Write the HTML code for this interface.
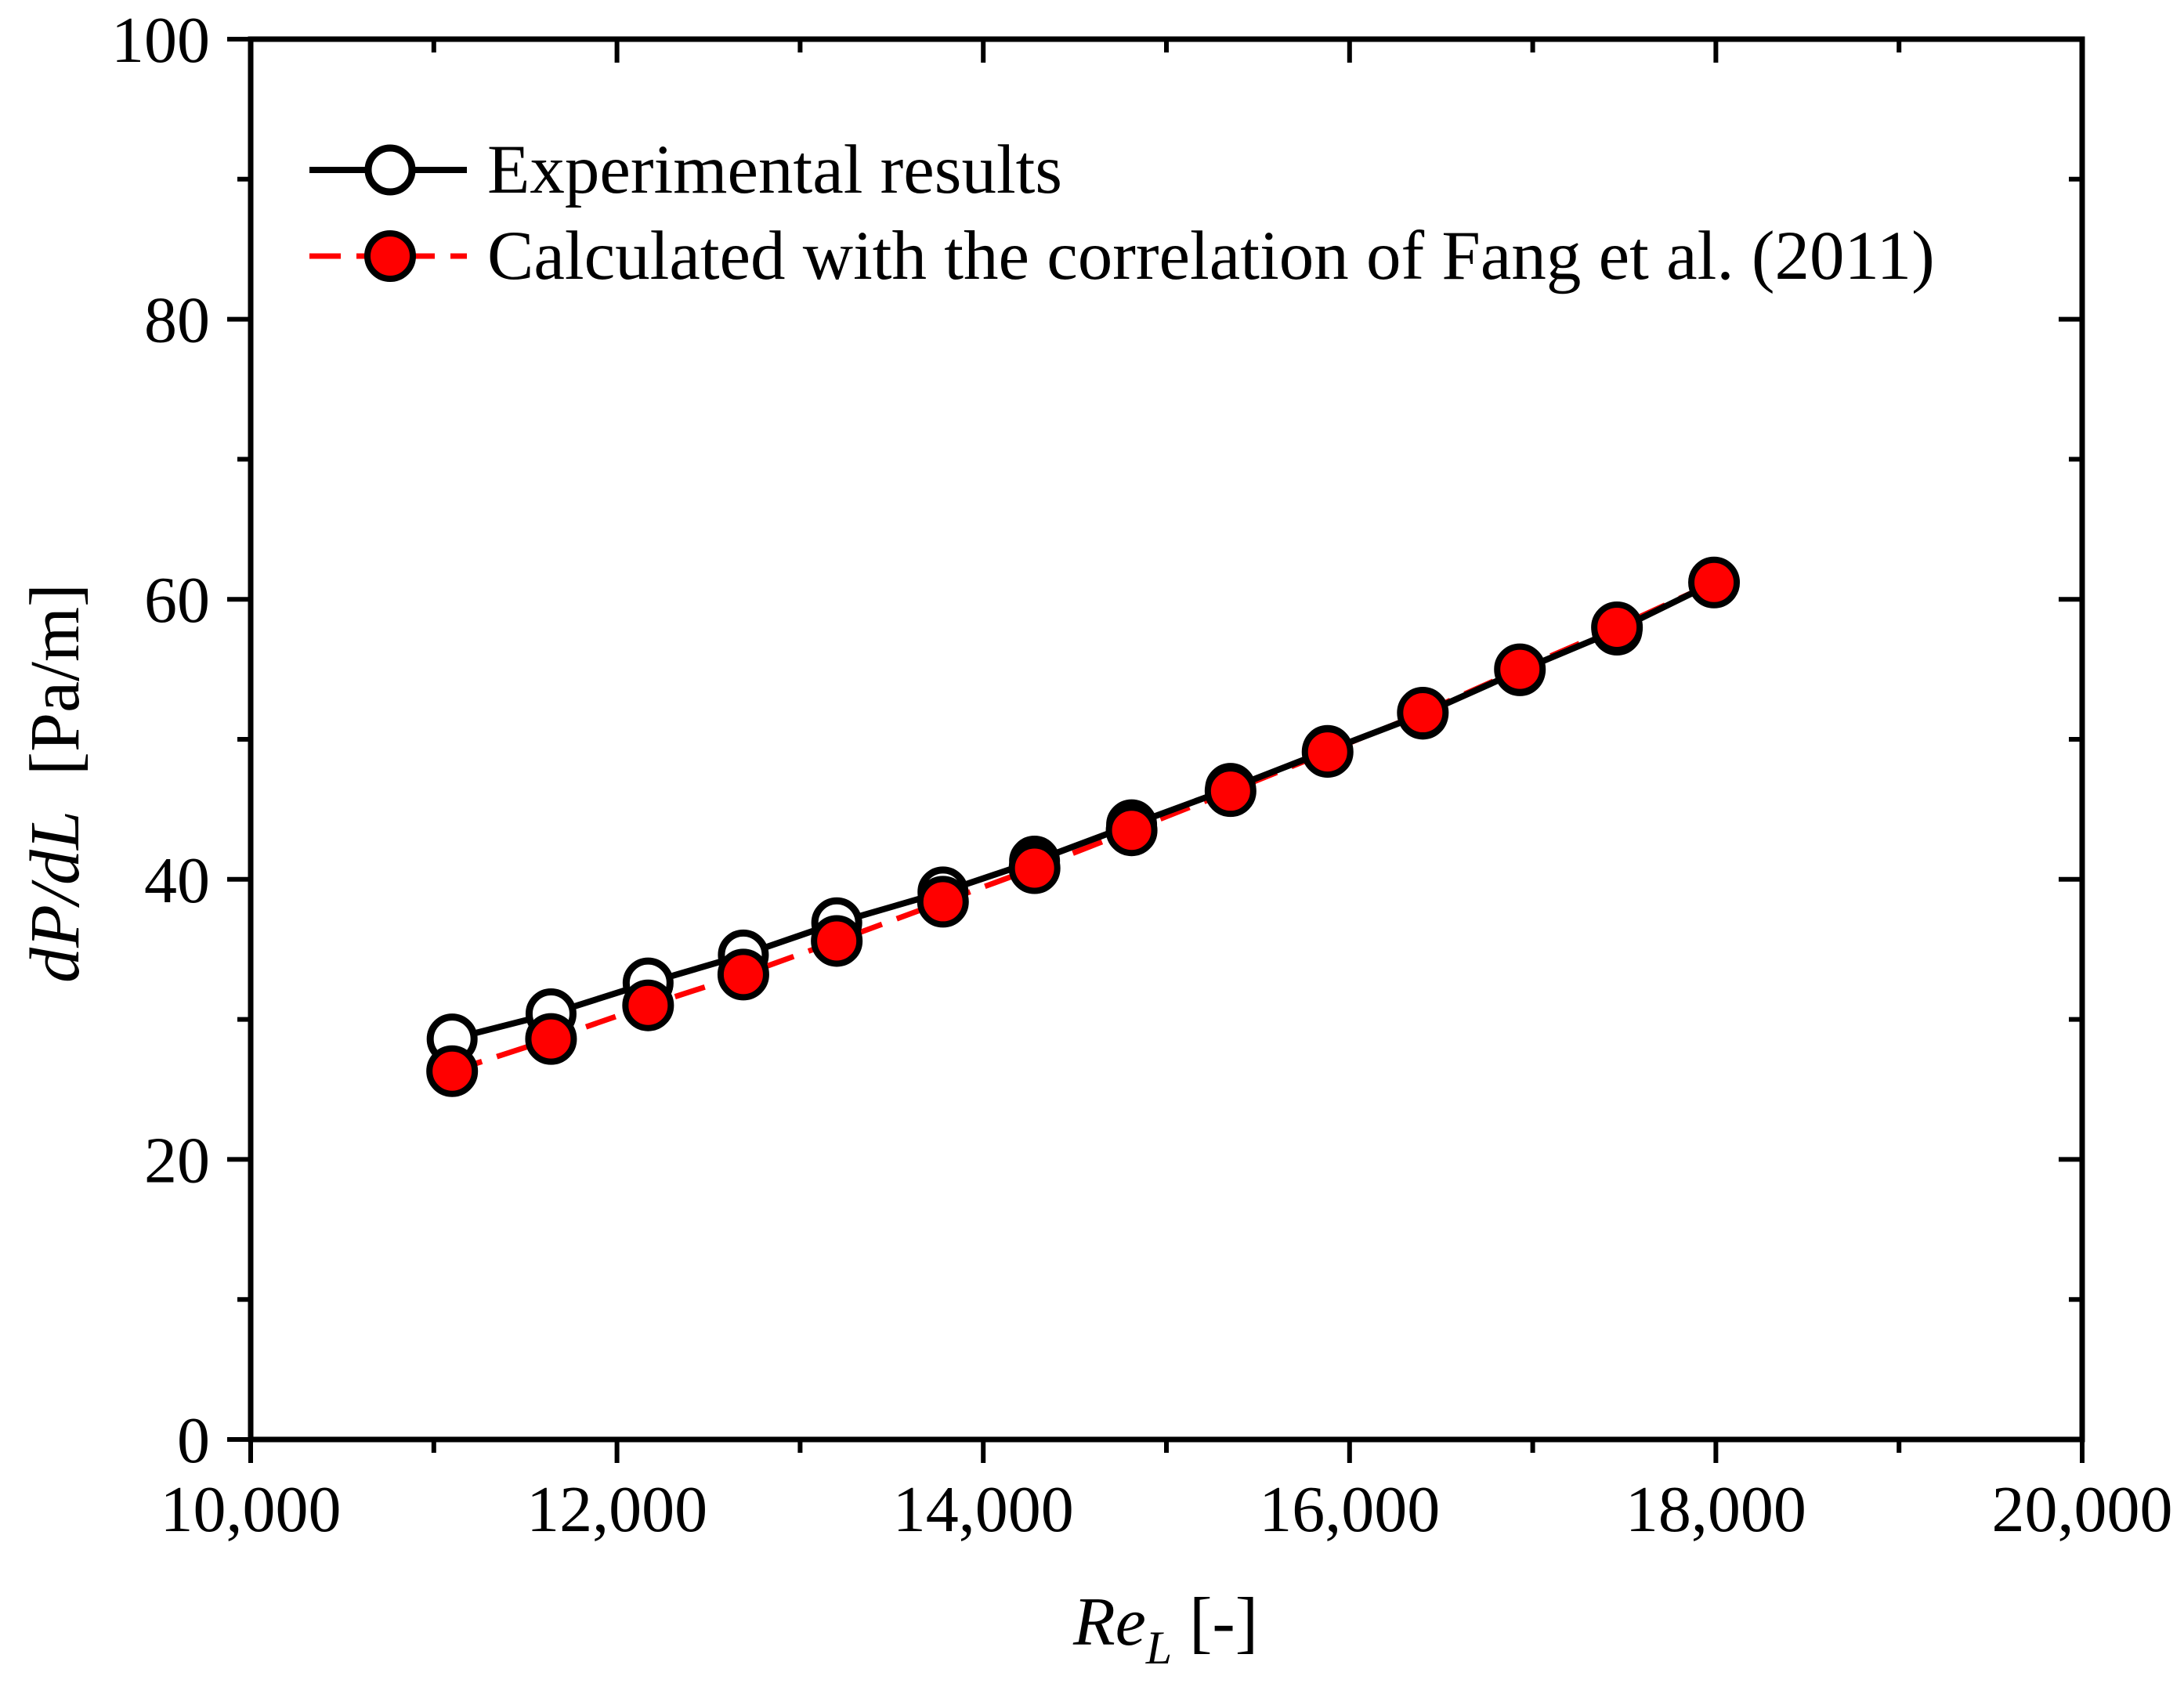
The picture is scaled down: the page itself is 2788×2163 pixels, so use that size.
<!DOCTYPE html>
<html><head><meta charset="utf-8"><style>
html,body{margin:0;padding:0;background:#fff;}
svg{display:block;font-family:"Liberation Serif",serif;}
</style></head><body>
<svg id="chart" width="2788" height="2163" viewBox="0 0 2788 2163" xmlns="http://www.w3.org/2000/svg"></svg>
<script>
const reValues=[11100,11640,12170,12690,13200,13780,14280,14810,15350,15880,16400,16930,17460,17990];
const expValues=[28.6,30.4,32.6,34.6,36.9,39.1,41.3,43.9,46.5,49.2,51.8,54.9,57.8,61.2];
const calcValues=[26.3,28.6,31.0,33.2,35.6,38.4,40.8,43.5,46.3,49.1,51.9,55.0,58.0,61.2];
const xTicks=[10000,12000,14000,16000,18000,20000];
const xTickLabels=["10,000","12,000","14,000","16,000","18,000","20,000"];
const yTicks=[0,20,40,60,80,100];
const yTickLabels=["0","20","40","60","80","100"];

const L=320,R=2658,T=50,B=1838;
const sx=v=>L+(v-10000)/10000*(R-L);
const sy=v=>B-v/100*(B-T);
const svg=document.getElementById('chart');
const NS="http://www.w3.org/2000/svg";
function mk(tag,attrs,parent){const e=document.createElementNS(NS,tag);for(const k in attrs)e.setAttribute(k,attrs[k]);(parent||svg).appendChild(e);return e;}

for(let i=0;i<=10;i++){
  const v=10000+i*1000, x=sx(v), major=i%2===0, len=major?30:17;
  let t=mk('line',{x1:x,x2:x,y1:B,y2:B+len,stroke:'#000','stroke-width':6});
  
  
  t=mk('line',{x1:x,x2:x,y1:T,y2:T+len,stroke:'#000','stroke-width':6});
  
  
}
for(let i=0;i<=10;i++){
  const v=i*10, y=sy(v), major=i%2===0, len=major?30:17;
  let t=mk('line',{x1:L-len,x2:L,y1:y,y2:y,stroke:'#000','stroke-width':6});
  
  
  t=mk('line',{x1:R-len,x2:R,y1:y,y2:y,stroke:'#000','stroke-width':6});
  
  
}
const frame=mk('rect',{x:L,y:T,width:R-L,height:B-T,fill:'none',stroke:'#000','stroke-width':7});



xTicks.forEach((v,i)=>{
  const t=mk('text',{x:sx(v),y:1955,'text-anchor':'middle','font-size':84});
  t.textContent=xTickLabels[i];
  
  
});
yTicks.forEach((v,i)=>{
  const t=mk('text',{x:268,y:sy(v)+29,'text-anchor':'end','font-size':84});
  t.textContent=yTickLabels[i];
  
  
});

const calcLine=mk('polyline',{points:reValues.map((v,i)=>sx(v)+','+sy(calcValues[i])).join(' '),fill:'none',stroke:'#ff0000','stroke-width':7,'stroke-dasharray':'40 20'});


const expLine=mk('polyline',{points:reValues.map((v,i)=>sx(v)+','+sy(expValues[i])).join(' '),fill:'none',stroke:'#000','stroke-width':8});


reValues.forEach((v,i)=>{
  const c=mk('circle',{cx:sx(v),cy:sy(expValues[i]),r:28,fill:'#fff',stroke:'#000','stroke-width':9});
  
  
});
reValues.forEach((v,i)=>{
  const c=mk('circle',{cx:sx(v),cy:sy(calcValues[i]),r:29,fill:'#ff0000',stroke:'#000','stroke-width':8});
  
  
});

const g=mk('g',{});


mk('line',{x1:395,x2:596,y1:217,y2:217,stroke:'#000','stroke-width':8},g);
mk('circle',{cx:498,cy:217,r:28,fill:'#fff',stroke:'#000','stroke-width':9},g);
let lt=mk('text',{x:622,y:246,'font-size':89},g);lt.textContent='Experimental results';


mk('line',{x1:395,x2:596,y1:327,y2:327,stroke:'#ff0000','stroke-width':7,'stroke-dasharray':'40 20'},g);
mk('circle',{cx:498,cy:327,r:29,fill:'#ff0000',stroke:'#000','stroke-width':8},g);
lt=mk('text',{x:622,y:356,'font-size':89},g);lt.textContent='Calculated with the correlation of Fang et al. (2011)';


</script>
<div style="position:absolute;left:0;top:0;width:2788px;height:2163px;pointer-events:none;">
<svg width="2788" height="2163" style="position:absolute;left:0;top:0;font-family:'Liberation Serif',serif;">
<text x="1488" y="2100" text-anchor="middle" font-size="88"><tspan font-style="italic">Re</tspan><tspan font-style="italic" font-size="60" dy="24">L</tspan><tspan dy="-24"> [-]</tspan></text>
<text transform="translate(100,1000) rotate(-90)" text-anchor="middle" font-size="90" xml:space="preserve"><tspan font-style="italic">dP/dL</tspan>  [Pa/m]</text>
</svg></div>
</body></html>
